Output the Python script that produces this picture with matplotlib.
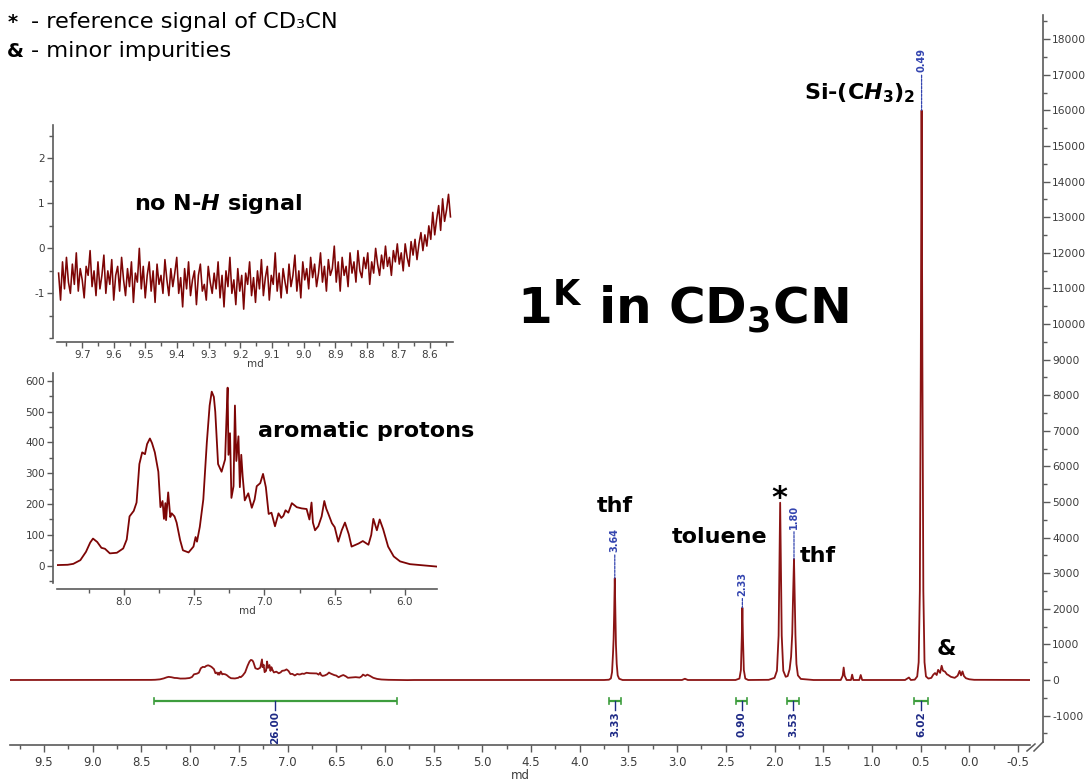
import numpy as np
import matplotlib
matplotlib.use("Agg")
import matplotlib.pyplot as plt
from matplotlib.lines import Line2D
from matplotlib.ticker import MultipleLocator, FormatStrFormatter

plt.rcParams.update({
    "font.family": ["DejaVu Sans"],
    "mathtext.fontset": "custom",
    "mathtext.rm": "DejaVu Sans:bold",
    "mathtext.it": "DejaVu Sans:italic:bold",
    "mathtext.bf": "DejaVu Sans:bold",
    "mathtext.default": "rm",
    "axes.unicode_minus": False,
})

# ---------------------------------------------------------------- data
# aromatic region (ppm, intensity)
arom_ppm = [8.474, 8.40, 8.36, 8.31, 8.27, 8.24, 8.22, 8.19, 8.16, 8.135,
            8.10, 8.05, 8.005, 7.98, 7.96, 7.93, 7.91, 7.89, 7.87, 7.85,
            7.835, 7.815, 7.80, 7.78, 7.755, 7.74, 7.725, 7.715, 7.705, 7.70,
            7.685, 7.67, 7.66, 7.64, 7.625, 7.60, 7.58, 7.54, 7.505, 7.49,
            7.48, 7.46, 7.435, 7.41, 7.39, 7.375, 7.36, 7.35, 7.33, 7.305,
            7.28, 7.27, 7.262, 7.256, 7.245, 7.235, 7.22, 7.21, 7.20, 7.185,
            7.175, 7.165, 7.155, 7.14, 7.115, 7.09, 7.07, 7.055, 7.03, 7.01,
            6.99, 6.97, 6.95, 6.925, 6.90, 6.88, 6.865, 6.85, 6.83, 6.805,
            6.77, 6.735, 6.70, 6.68, 6.665, 6.655, 6.64, 6.617, 6.593, 6.574,
            6.56, 6.545, 6.52, 6.50, 6.475, 6.45, 6.427, 6.40, 6.38, 6.33,
            6.30, 6.26, 6.24, 6.225, 6.20, 6.18, 6.155, 6.12, 6.08, 6.035,
            5.965, 5.77]
arom_int = [2, 3, 6, 18, 45, 75, 88, 77, 58, 55,
            40, 42, 56, 85, 160, 178, 205, 330, 368, 362,
            395, 413, 398, 368, 305, 190, 210, 152, 203, 148,
            238, 158, 170, 160, 140, 83, 50, 43, 62, 93,
            78, 126, 215, 400, 520, 565, 548, 500, 330, 305,
            345, 480, 578, 360, 430, 220, 258, 520, 340, 420,
            255, 360, 290, 212, 235, 188, 215, 258, 268, 298,
            255, 168, 172, 128, 170, 155, 162, 180, 172, 203,
            190, 186, 184, 150, 205, 140, 115, 128, 160, 210,
            185, 168, 138, 125, 78, 115, 140, 102, 62, 72,
            80, 68, 100, 152, 115, 150, 118, 62, 30, 14,
            5, -3]

# aliphatic region (ppm, intensity)
aliph_ppm = [5.70, 3.75, 3.70, 3.68, 3.668, 3.658, 3.652, 3.646, 3.640, 3.634,
             3.628, 3.620, 3.610, 3.595, 3.56, 2.95, 2.92, 2.89, 2.40, 2.36,
             2.345, 2.336, 2.330, 2.324, 2.315, 2.30, 2.27, 2.06, 2.00, 1.975,
             1.958, 1.948, 1.942, 1.936, 1.926, 1.91, 1.885, 1.865, 1.845, 1.830,
             1.818, 1.810, 1.800, 1.792, 1.785, 1.775, 1.76, 1.73, 1.60, 1.32,
             1.30, 1.29, 1.28, 1.26, 1.215, 1.203, 1.19, 1.13, 1.115, 1.10,
             0.66, 0.62, 0.60, 0.56, 0.535, 0.52, 0.508, 0.498, 0.490, 0.482,
             0.472, 0.46, 0.445, 0.42, 0.39, 0.37, 0.352, 0.335, 0.32, 0.30,
             0.284, 0.27, 0.25, 0.23, 0.216, 0.19, 0.15, 0.12, 0.10, 0.085,
             0.07, 0.055, 0.035, 0.00, -0.05, -0.62]
aliph_int = [0, 0, 8, 45, 220, 750, 1150, 1900, 2860, 1900,
             1000, 450, 130, 35, 0, 0, 35, 0, 0, 40,
             280, 1200, 2030, 1200, 280, 40, 0, 5, 60, 260,
             1250, 3600, 4980, 3600, 1250, 260, 90, 110, 300, 650,
             1300, 2300, 3400, 2300, 1250, 450, 130, 30, 0, 0,
             120, 350, 120, 0, 0, 150, 0, 0, 140, 0,
             0, 70, 0, 10, 100, 500, 2500, 9000, 16000, 9000,
             2500, 500, 100, 40, 60, 150, 195, 140, 285, 200,
             400, 260, 235, 160, 140, 90, 60, 120, 255, 130,
             240, 110, 50, 20, 5, 0]

# N-H region (9.78 - 8.53 ppm), baseline noise
nh_int = [
    -0.55, -1.15, -0.3, -0.9, -0.2, -0.75, -1.0, -0.35, -0.8, -0.1,
    -0.95, -0.45, -0.7, -1.1, -0.4, -0.6, -0.05, -0.85, -0.5, -1.05,
    -0.3, -0.9, -0.6, -0.15, -1.0, -0.5, -0.8, -0.25, -1.15, -0.6,
    -0.4, -0.95, -0.2, -0.7, -1.05, -0.45, -0.85, -0.3, -1.2, -0.55,
    -0.75, 0.0, -0.9, -0.4, -1.1, -0.6, -0.3, -0.95, -0.5, -1.2,
    -0.35, -0.8, -0.6, -1.0, -0.25, -0.7, -1.05, -0.45, -0.85, -0.55,
    -0.2, -1.0, -0.65, -1.3, -0.45, -0.9, -0.3, -1.05, -0.7, -0.5,
    -1.25, -0.6, -0.35, -0.95, -0.8, -1.15, -0.4, -0.75, -1.0, -0.55,
    -0.9, -0.3, -1.1, -0.6, -1.3, -0.5, -0.85, -0.2, -1.0, -0.7,
    -1.25, -0.45, -0.95, -0.6, -1.35, -0.55, -0.8, -0.3, -1.05, -0.65,
    -1.2, -0.5, -0.9, -0.25, -1.05, -0.65, -0.4, -1.15, -0.6, -0.8,
    -0.1, -0.95, -0.55, -1.1, -0.45, -0.75, -1.0, -0.35, -0.85, -0.6,
    -0.15, -0.95, -0.5, -1.1, -0.3, -0.7, -0.45, -0.9, -0.2, -0.65,
    -0.35, -0.85, -0.55, -0.1, -0.75, -0.4, -0.95, -0.25, -0.6, -0.45,
    0.05, -0.75, -0.3, -0.95, -0.2, -0.6, -0.4, -0.85, -0.1, -0.55,
    -0.3, -0.75, -0.05, -0.5, -0.65, -0.2, -0.45, -0.1, -0.8, -0.3,
    -0.55, 0.0, -0.35, -0.6, -0.15, -0.45, 0.05, -0.4, -0.2, -0.6,
    -0.05, -0.3, 0.1, -0.35, -0.1, -0.5, 0.1, -0.2, -0.4, 0.15,
    -0.15, 0.2, -0.25, 0.1, 0.35, -0.05, 0.3, 0.05, 0.5, 0.2,
    0.8, 0.3, 0.65, 0.95, 0.4, 1.1, 0.6, 0.85, 1.2, 0.7]
nh_ppm = np.linspace(9.775, 8.535, len(nh_int))

# picked peaks
peak_ppm = [3.64, 2.33, 1.80, 0.49]

# integrals
integ_start = [8.37, 3.70, 2.395, 1.87, 0.565]
integ_end = [5.88, 3.576, 2.28, 1.75, 0.425]
integ_value = [26.00, 3.33, 0.90, 3.53, 6.02]

# full spectrum
main_ppm = np.array([9.849] + arom_ppm + aliph_ppm)
main_int = np.array([0] + arom_int + aliph_int)

# ---------------------------------------------------------------- style
TRACE = "#8b1414"
INSET = "#7d0505"
AXIS = "#5a5a5a"
TICKTXT = "#3c3c3c"
PEAKBLUE = "#3445b0"
INTBLUE = "#1e2a86"
GREEN = "#3d9d3d"

W, H = 1086, 780


def box(left, top, right, bottom):
    return [left / W, 1 - bottom / H, (right - left) / W, (bottom - top) / H]


def fx(x):
    return x / W


def fy(y):
    return 1 - y / H


PT = 72 / 100  # points per pixel

fig = plt.figure(figsize=(W / 100, H / 100), dpi=100)

# ---------------------------------------------------------------- main
ax = fig.add_axes(box(10, 15, 1030, 745))
ax.set_facecolor("none")
ax.plot(main_ppm, main_int, color=TRACE, lw=1.3)
ax.set_xlim(9.849, -0.623)
ax.set_ylim(-1826, 18680)
for s in ("left", "top"):
    ax.spines[s].set_visible(False)
for s in ("right", "bottom"):
    ax.spines[s].set_color(AXIS)
    ax.spines[s].set_linewidth(1.2)
ax.spines["right"].set_position(("outward", 13 * PT))
ax.spines["right"].set_bounds(-1733, 18680)
ax.yaxis.tick_right()
ax.set_yticks(np.arange(-1000, 18001, 1000))
ax.yaxis.set_minor_locator(MultipleLocator(500))
ax.set_xticks(np.round(np.arange(-0.5, 9.51, 0.5), 2))
ax.xaxis.set_minor_locator(MultipleLocator(0.25))
ax.xaxis.set_major_formatter(FormatStrFormatter("%.1f"))
ax.tick_params(axis="both", which="both", direction="out", color=AXIS,
               labelcolor=TICKTXT, labelsize=8.5)
ax.tick_params(axis="both", which="major", length=5, width=1)
ax.tick_params(axis="both", which="minor", length=3, width=1)
ax.tick_params(axis="y", labelsize=7.7, pad=1.5)
ax.tick_params(axis="x", pad=3)
ax.set_xlabel("md", fontsize=8.5, color=TICKTXT, labelpad=0)

# axis break mark
for (x1, y1, x2, y2) in [(1027, 751, 1035, 744), (1034, 751, 1043, 742)]:
    fig.add_artist(Line2D([fx(x1), fx(x2)], [fy(y1), fy(y2)],
                          transform=fig.transFigure, color=AXIS, lw=1.1))

# peak labels
peak_offsets_px = [26, 12, 30, 38]
order = np.argsort(main_ppm)
for p, off in zip(peak_ppm, peak_offsets_px):
    top = np.interp(p, main_ppm[order], main_int[order])
    ax.annotate(f"{p:.2f}", xy=(p, top), xytext=(0, off * PT),
                textcoords="offset points", rotation=90, ha="center",
                va="bottom", fontsize=7, fontweight="bold", color=PEAKBLUE,
                arrowprops=dict(arrowstyle="-", color=PEAKBLUE, lw=0.9,
                                linestyle=(0, (2, 1)), shrinkA=0, shrinkB=0))

# integrals
y_int = -590
for s, e, v in zip(integ_start, integ_end, integ_value):
    c = (s + e) / 2
    ax.plot([s, e], [y_int, y_int], color=GREEN, lw=1.6, solid_capstyle="butt")
    for xe in (s, e):
        ax.plot([xe, xe], [y_int - 80, y_int + 80], color=GREEN, lw=1.2)
    ax.plot([c, c], [y_int, y_int - 250], color=INTBLUE, lw=1.0)
    ax.text(c, y_int - 290, f"{v:.2f}", rotation=90, ha="center", va="top",
            fontsize=7.5, fontweight="bold", color=INTBLUE)

# assignments
lab = dict(fontsize=16, fontweight="bold", va="baseline", color="black")
ax.text(3.64, 4719, "thf", ha="center", **lab)
ax.text(2.56, 3848, "toluene", ha="center", **lab)
ax.text(1.553, 3315, "thf", ha="center", **lab)
ax.text(0.232, 702, "&", ha="center", **lab)
ax.text(1.95, 4850, "*", ha="center", fontsize=22, fontweight="bold",
        va="baseline")
ax.text(0.557, 16300, r"Si-(C$\mathit{H}_{3}$)$_{2}$", ha="right", **lab)

# ---------------------------------------------------------------- N-H inset
ax1 = fig.add_axes(box(57, 125, 453, 342))
ax1.set_facecolor("none")
ax1.plot(nh_ppm, nh_int, color=INSET, lw=1.15)
ax1.set_xlim(9.78, 8.527)
ax1.set_ylim(-2.08, 2.74)
ax1.set_yticks([-1, 0, 1, 2])
ax1.yaxis.set_minor_locator(MultipleLocator(0.5))
ax1.set_xticks(np.round(np.arange(8.6, 9.71, 0.1), 2))
ax1.xaxis.set_minor_locator(MultipleLocator(0.05))
ax1.xaxis.set_major_formatter(FormatStrFormatter("%.1f"))
ax1.spines["left"].set_bounds(-1.99, 2.74)
ax1.spines["left"].set_position(("outward", 4 * PT))

# ---------------------------------------------------------------- aromatic inset
ax2 = fig.add_axes(box(57.3, 373, 437.3, 588.7))
ax2.set_facecolor("none")
ax2.plot(arom_ppm, arom_int, color=INSET, lw=1.3)
ax2.set_xlim(8.474, 5.77)
ax2.set_ylim(-74.7, 625.6)
ax2.set_yticks(np.arange(0, 601, 100))
ax2.yaxis.set_minor_locator(MultipleLocator(50))
ax2.set_xticks([6.0, 6.5, 7.0, 7.5, 8.0])
ax2.xaxis.set_minor_locator(MultipleLocator(0.25))
ax2.xaxis.set_major_formatter(FormatStrFormatter("%.1f"))
ax2.spines["left"].set_bounds(-55, 625.6)
ax2.spines["left"].set_position(("outward", 4 * PT))

for a in (ax1, ax2):
    for s in ("right", "top"):
        a.spines[s].set_visible(False)
    for s in ("left", "bottom"):
        a.spines[s].set_color(AXIS)
        a.spines[s].set_linewidth(1.2)
    a.tick_params(axis="both", which="both", direction="out", color=AXIS,
                  labelcolor=TICKTXT, labelsize=7.5, pad=2)
    a.tick_params(axis="both", which="major", length=4, width=1)
    a.tick_params(axis="both", which="minor", length=3, width=1)
    a.set_xlabel("md", fontsize=7.5, color=TICKTXT, labelpad=-1)

# ---------------------------------------------------------------- annotations
fig.text(fx(134), fy(210), r"no N-$\mathit{H}$ signal", fontsize=16,
         fontweight="bold", va="baseline")
fig.text(fx(258), fy(437), "aromatic protons", fontsize=16,
         fontweight="bold", va="baseline")
fig.text(fx(683), fy(307), r"1$^{\mathrm{K}}$ in CD$_{3}$CN", fontsize=36,
         fontweight="bold", ha="center", va="center")

fig.text(fx(8), fy(28), "*", fontsize=14, fontweight="bold", va="baseline")
fig.text(fx(31), fy(28), "- reference signal of CD\u2083CN", fontsize=16.2,
         va="baseline")
fig.text(fx(7), fy(57), "&", fontsize=14, fontweight="bold", va="baseline")
fig.text(fx(31), fy(57), "- minor impurities", fontsize=16.2, va="baseline")

fig.savefig("out.png", dpi=100)
